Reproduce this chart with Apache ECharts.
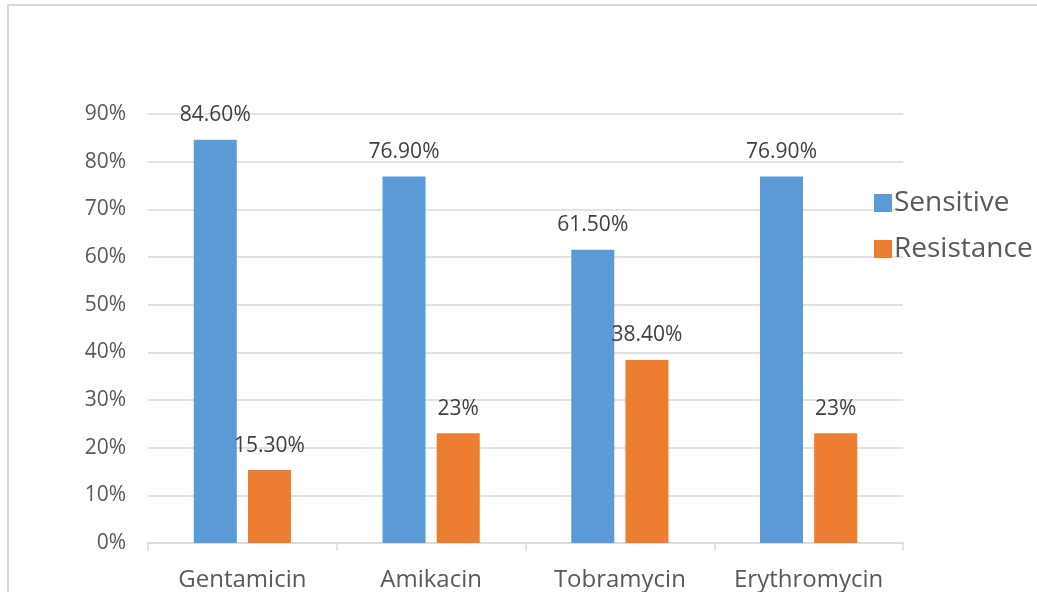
<!DOCTYPE html>
<html>
<head>
<meta charset="utf-8">
<script src="https://cdn.jsdelivr.net/npm/echarts@6/dist/echarts.min.js"></script>
<style>
  html, body { margin: 0; padding: 0; background: #fff; }
  #chart { width: 1037px; height: 592px; }
  .frame { position: absolute; left: 7px; top: 4px; width: 1040px; height: 600px; border: 2px solid #d9d9d9; box-sizing: border-box; pointer-events: none; }
</style>
</head>
<body>
<div id="chart"></div>
<div class="frame"></div>
<script>
const categories = ['Gentamicin', 'Amikacin', 'Tobramycin', 'Erythromycin']
const sensitive = [84.6, 76.9, 61.5, 76.9]
const resistance = [15.3, 23, 38.4, 23]
const seriesNames = ['Sensitive', 'Resistance']

const fmt = (v) => Number.isInteger(v) ? v + '%' : v.toFixed(2) + '%'
const font = '"Open Sans", "Liberation Sans", sans-serif'

const myChart = echarts.init(document.getElementById('chart'))
const labelStyle = {
  show: true,
  position: 'top',
  distance: 14,
  fontSize: 21,
  fontFamily: font,
  color: '#404040',
  formatter: (p) => fmt(p.value)
}
const option = {
  animation: false,
  grid: { left: 148, right: 134, top: 114, bottom: 48 },
  legend: {
    orient: 'vertical',
    left: 869,
    top: 184,
    itemWidth: 18,
    itemHeight: 18,
    itemGap: 18,
    icon: 'rect',
    textStyle: { fontSize: 28, fontFamily: font, color: '#595959', padding: [0, 0, 0, -3] },
    data: seriesNames
  },
  xAxis: {
    type: 'category',
    data: categories,
    axisLine: { lineStyle: { color: '#d9d9d9', width: 1.5 } },
    axisTick: { show: true, length: 8, lineStyle: { color: '#d9d9d9', width: 1.5 } },
    axisLabel: { interval: 0, fontSize: 24, fontFamily: font, color: '#595959', margin: 25 }
  },
  yAxis: {
    type: 'value',
    min: 0,
    max: 90,
    interval: 10,
    axisLine: { show: false },
    axisTick: { show: false },
    axisLabel: { fontSize: 21, fontFamily: font, color: '#595959', margin: 22, formatter: '{value}%' },
    splitLine: { lineStyle: { color: '#d9d9d9', width: 1.5 } }
  },
  series: [
    {
      name: seriesNames[0],
      type: 'bar',
      data: sensitive,
      barWidth: 43,
      barGap: '26%',
      itemStyle: { color: '#5b9bd5' },
      label: labelStyle
    },
    {
      name: seriesNames[1],
      type: 'bar',
      data: resistance,
      barWidth: 43,
      itemStyle: { color: '#ed7d31' },
      label: labelStyle
    }
  ]
}
myChart.setOption(option)
</script>
</body>
</html>
